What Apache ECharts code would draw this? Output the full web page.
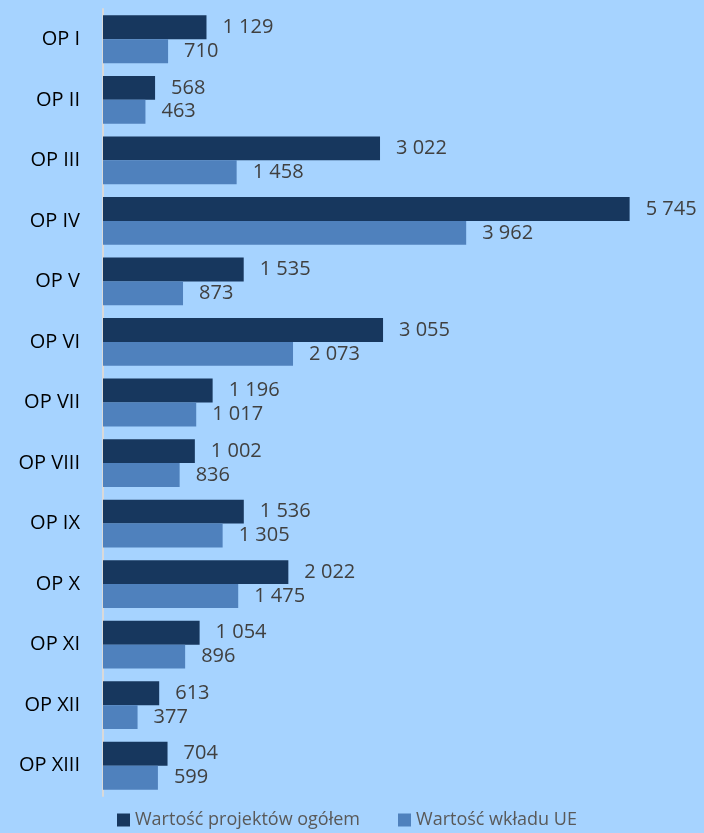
<!DOCTYPE html>
<html>
<head>
<meta charset="utf-8">
<script src="https://cdn.jsdelivr.net/npm/echarts@6/dist/echarts.min.js"></script>
<style>
  html, body { margin: 0; padding: 0; background: #a6d3ff; }
  #chart { width: 704px; height: 833px; }
</style>
</head>
<body>
<div id="chart"></div>
<script>
// programy operacyjne
const categories = ["OP I", "OP II", "OP III", "OP IV", "OP V", "OP VI", "OP VII",
  "OP VIII", "OP IX", "OP X", "OP XI", "OP XII", "OP XIII"];
const totalValues = [1129, 568, 3022, 5745, 1535, 3055, 1196, 1002, 1536, 2022, 1054, 613, 704];
const euValues = [710, 463, 1458, 3962, 873, 2073, 1017, 836, 1305, 1475, 896, 377, 599];

const fmt = (v) => String(v).replace(/\B(?=(\d{3})+(?!\d))/g, " ");

const chart = echarts.init(document.getElementById("chart"));
const labelStyle = {
  show: true,
  position: "right",
  distance: 16,
  color: "#404040",
  fontSize: 20,
  fontFamily: "Open Sans",
  formatter: (p) => fmt(p.value),
};
chart.setOption({
  backgroundColor: "#a6d3ff",
  animation: false,
  grid: { left: 103, right: 51, top: 9, bottom: 37, containLabel: false },
  legend: {
    bottom: -1,
    left: 112,
    itemWidth: 13,
    itemHeight: 13,
    itemGap: 38,
    icon: "rect",
    textStyle: { color: "#595959", fontSize: 18, fontFamily: "Open Sans" },
  },
  xAxis: {
    type: "value",
    min: 0,
    max: 6000,
    show: false,
  },
  yAxis: {
    type: "category",
    data: categories,
    inverse: true,
    axisLine: { lineStyle: { color: "#d9d9d9", width: 2 } },
    axisTick: { show: false },
    axisLabel: { color: "#000", fontSize: 20, fontFamily: "Open Sans", margin: 23 },
  },
  series: [
    {
      name: "Wartość projektów ogółem",
      type: "bar",
      data: totalValues,
      barGap: "0%",
      barCategoryGap: "21%",
      itemStyle: { color: "#17375e" },
      label: labelStyle,
    },
    {
      name: "Wartość wkładu UE",
      type: "bar",
      data: euValues,
      itemStyle: { color: "#4f81bd" },
      label: labelStyle,
    },
  ],
});
</script>
</body>
</html>
